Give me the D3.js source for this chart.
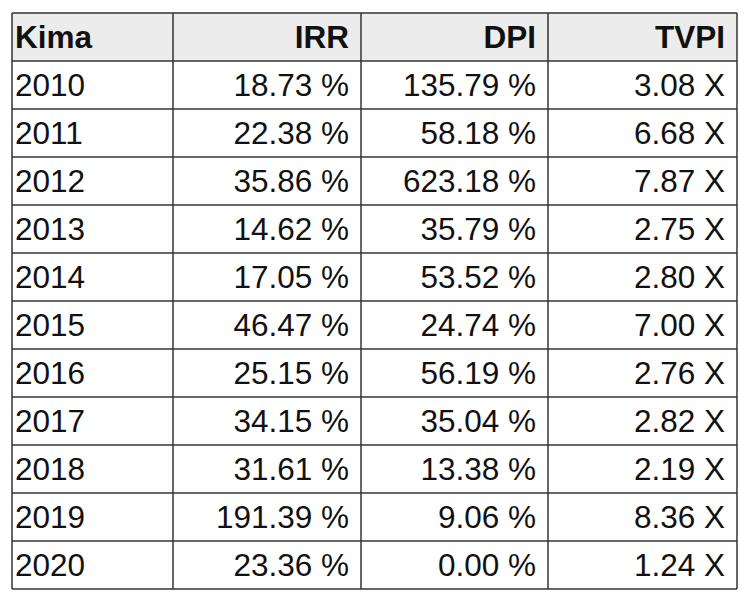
<!DOCTYPE html>
<html lang="en">
<head>
  <meta charset="UTF-8">
  <title>Kima</title>
  <script src="https://cdn.jsdelivr.net/npm/d3@7"></script>
  <style>
    body { margin: 0; background: #fff; }
    text { font-family: "Liberation Sans", Arial, sans-serif; font-size: 31.5px; fill: #111; }
  </style>
</head>
<body>
<script>
  var headers = ['Kima', 'IRR', 'DPI', 'TVPI'];
  var years = ['2010','2011','2012','2013','2014','2015','2016','2017','2018','2019','2020'];
  var irr = [18.73, 22.38, 35.86, 14.62, 17.05, 46.47, 25.15, 34.15, 31.61, 191.39, 23.36];
  var dpi = [135.79, 58.18, 623.18, 35.79, 53.52, 24.74, 56.19, 35.04, 13.38, 9.06, 0.00];
  var tvpi = [3.08, 6.68, 7.87, 2.75, 2.80, 7.00, 2.76, 2.82, 2.19, 8.36, 1.24];

  var colEdges = [12, 173, 361, 548, 737];
  var svg = d3.select('body').append('svg').attr('width', 746).attr('height', 600);

  var rows = ['head'].concat(years);
  var y = d3.scaleBand().domain(d3.range(rows.length)).range([13, 589]);

  var cells = years.map(function(yr, i){
    return [yr, irr[i].toFixed(2) + ' %', dpi[i].toFixed(2) + ' %', tvpi[i].toFixed(2) + ' X'];
  });
  var all = [headers].concat(cells);

  svg.append('rect').attr('x', colEdges[0]).attr('y', y(0))
    .attr('width', colEdges[4] - colEdges[0]).attr('height', y.bandwidth())
    .attr('fill', '#ececec');

  all.forEach(function(row, r){
    row.forEach(function(txt, c){
      var left = c === 0;
      svg.append('text')
        .attr('x', left ? colEdges[c] + 3 : colEdges[c+1] - 12)
        .attr('y', y(r) + y.bandwidth() / 2 + 11)
        .attr('text-anchor', left ? 'start' : 'end')
        .style('font-weight', r === 0 ? 'bold' : 'normal')
        .text(txt);
    });
  });

  // grid lines
  d3.range(rows.length + 1).forEach(function(r){
    var yy = r < rows.length ? y(r) : y.range()[1];
    svg.append('line').attr('x1', colEdges[0]).attr('x2', colEdges[4])
      .attr('y1', yy).attr('y2', yy).attr('stroke', '#333').attr('stroke-width', 1.5);
  });
  colEdges.forEach(function(x){
    svg.append('line').attr('x1', x).attr('x2', x)
      .attr('y1', 13).attr('y2', 589).attr('stroke', '#333').attr('stroke-width', 1.5);
  });
</script>
</body>
</html>
